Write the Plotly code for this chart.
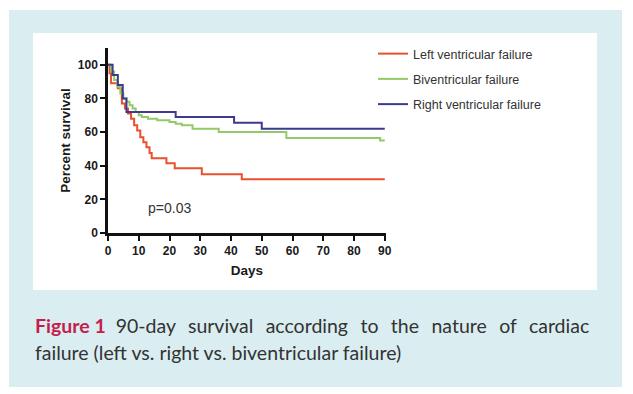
import plotly.graph_objects as go

# ---- data ----
red_days = [0, 0.5, 1, 3.2, 4.5, 5.5, 6.5, 7.5, 8.5, 9.5, 10.5, 11.5, 12.5, 13.5, 14.2, 19, 21.7, 30.5, 43.5, 90]
red_surv = [100, 95, 89, 86, 77, 74, 71, 68, 64, 61, 57, 54, 51, 47.5, 44.5, 41.5, 38.5, 35, 32, 32]

green_days = [0, 1, 2, 3, 4, 5, 6, 7, 8, 9, 10, 11, 13, 16, 20, 22, 24, 27.5, 36, 58, 88.5, 90]
green_surv = [100, 96, 91, 87, 83, 80, 78, 76, 74, 72, 70, 69, 68, 67, 66, 65, 64, 62, 60, 56.5, 55, 55]

blue_days = [0, 1.5, 3.2, 4.8, 6, 22, 41, 50, 90]
blue_surv = [100, 94, 88, 80, 72, 69, 65.5, 62, 62]

series_names = ["Left ventricular failure", "Biventricular failure", "Right ventricular failure"]
x_ticks = [0, 10, 20, 30, 40, 50, 60, 70, 80, 90]
y_ticks = [0, 20, 40, 60, 80, 100]
p_text = "p=0.03"

# ---- layout geometry (page pixels; the page body adds an 8px offset) ----
OFF = 8
W, H = 633 - OFF, 394 - OFF
L, R, T, B = 108 - OFF, 386 - OFF, 48 - OFF, 233 - OFF


def px(xp):
    return (xp - OFF - L) / (R - L)


def py(yp):
    return (B - (yp - OFF)) / (B - T)


colors = ["#e8502e", "#93c968", "#3d3b8e"]
data_sets = [(red_days, red_surv), (green_days, green_surv), (blue_days, blue_surv)]

fig = go.Figure()
for i, ((d, s), name) in enumerate(zip(data_sets, series_names)):
    fig.add_trace(go.Scatter(
        x=d, y=s, mode="lines", name=name, legendgroup=str(i),
        line=dict(color=colors[i], width=2, shape="hv"),
    ))

axis_font = dict(family="Arial", size=12, color="#1a1a1a", weight="bold")
title_font = dict(family="Arial", size=13.5, color="#1a1a1a", weight="bold")

fig.update_layout(
    width=W, height=H,
    margin=dict(l=L, r=W - R, t=T, b=H - B, autoexpand=False),
    paper_bgcolor="white",
    plot_bgcolor="rgba(0,0,0,0)",
    showlegend=True,
    legend=dict(
        xref="container", yref="container",
        x=(373 - OFF) / W, y=1 - (39 - OFF) / H, xanchor="left", yanchor="top",
        font=dict(family="Arial", size=12.5, color="#333333"),
        bgcolor="rgba(0,0,0,0)",
        tracegroupgap=6,
    ),
    xaxis=dict(
        range=[0, 90.4], tickvals=x_ticks, ticktext=[str(v) for v in x_ticks],
        showgrid=False, zeroline=False,
        showline=True, linecolor="#111111", linewidth=2.5,
        ticks="outside", ticklen=5, tickwidth=2, tickcolor="#111111",
        tickfont=axis_font,
        title=dict(text="Days", font=title_font, standoff=9),
    ),
    yaxis=dict(
        range=[0, 110], tickvals=y_ticks, ticktext=[str(v) for v in y_ticks],
        showgrid=False, zeroline=False,
        showline=True, linecolor="#111111", linewidth=2.5,
        ticks="outside", ticklen=5, tickwidth=2, tickcolor="#111111",
        tickfont=axis_font,
        title=dict(text="Percent survival", font=title_font, standoff=5),
    ),
    shapes=[
        dict(type="rect", xref="paper", yref="paper", x0=px(9), x1=px(622), y0=py(387), y1=py(10),
             fillcolor="#daedf0", line=dict(width=0), layer="below"),
        dict(type="rect", xref="paper", yref="paper", x0=px(33), x1=px(597), y0=py(290), y1=py(33),
             fillcolor="white", line=dict(width=0), layer="below"),
    ],
)

fig.add_annotation(x=20, y=15, xref="x", yref="y", text=p_text, showarrow=False,
                   font=dict(family="Arial", size=14, color="#333333"))

sp = "\u00a0"
line1 = ("<b><span style='color:#c41e4e'>Figure 1</span></b>" + sp * 2 +
         (sp * 2 + "\u2009").join(["90-day", "survival", "according", "to", "the", "nature", "of", "cardiac"]))
line2 = "failure (left vs. right vs. biventricular failure)"
cap_font = dict(family="Lato", size=19.5, color="#333333")
fig.add_annotation(x=px(33), y=py(325), xref="paper", yref="paper", text=line1, showarrow=False,
                   xanchor="left", yanchor="middle", font=cap_font)
fig.add_annotation(x=px(33), y=py(352), xref="paper", yref="paper", text=line2, showarrow=False,
                   xanchor="left", yanchor="middle", font=cap_font)

fig.write_html("out.html")
